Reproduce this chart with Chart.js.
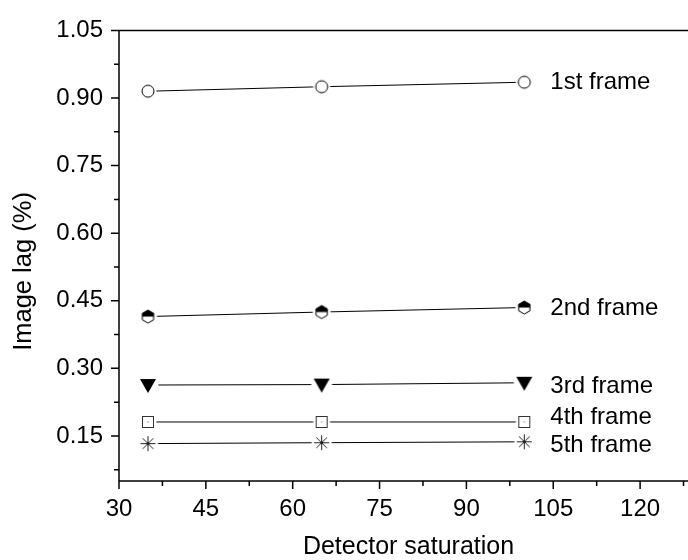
<!DOCTYPE html>
<html><head><meta charset="utf-8">
<script src="https://cdn.jsdelivr.net/npm/chart.js@4/dist/chart.umd.min.js"></script>
<style>
html,body{margin:0;padding:0;background:#fff;overflow:hidden;width:688px;height:560px}
#wrap{width:720px;height:560px}
</style></head><body>
<div id="wrap"><canvas id="c" width="720" height="560"></canvas></div>
<script>
const saturation = [35, 65, 100];
const frame1 = [0.915, 0.925, 0.935];
const frame2 = [0.415, 0.425, 0.435];
const frame3 = [0.263, 0.264, 0.268];
const frame4 = [0.181, 0.181, 0.181];
const frame5 = [0.133, 0.135, 0.137];
const frameNames = ['1st frame', '2nd frame', '3rd frame', '4th frame', '5th frame'];
const labelY = [0.935, 0.432, 0.261, 0.191, 0.128];
const labelX = 104.5;
const xTickValues = [30, 45, 60, 75, 90, 105, 120];
const yTickValues = [0.15, 0.30, 0.45, 0.60, 0.75, 0.90, 1.05];
const xMinorValues = [37.5, 52.5, 67.5, 82.5, 97.5, 112.5, 127.5];
const yMinorValues = [0.075, 0.225, 0.375, 0.525, 0.675, 0.825, 0.975];
const xRange = [30, 130];
const yRange = [0.05, 1.05];
const xTitle = 'Detector saturation';
const yTitle = 'Image lag (%)';
const yTitleCenterValue = 0.515;

const FONT = '"Liberation Sans", Arial, sans-serif';

function marker(r, draw) {
  const pad = 4;
  const s = Math.ceil(2 * (r + pad));
  const c = document.createElement('canvas');
  c.width = s; c.height = s;
  const g = c.getContext('2d');
  g.translate(s / 2, s / 2);
  g.fillStyle = '#fff';
  g.beginPath(); g.arc(0, 0, r + 2.5, 0, Math.PI * 2); g.fill();
  g.strokeStyle = '#000'; g.fillStyle = '#000'; g.lineWidth = 1;
  draw(g, r);
  return c;
}
const mCircle = marker(6, (g, r) => {
  g.beginPath(); g.arc(0, 0, r, 0, Math.PI * 2);
  g.fillStyle = '#fff'; g.fill(); g.stroke();
});
function hexPath(g, r) {
  g.beginPath();
  for (let k = 0; k < 6; k++) {
    const a = -Math.PI / 2 + k * Math.PI / 3;
    const px = r * Math.cos(a), py = r * Math.sin(a);
    k ? g.lineTo(px, py) : g.moveTo(px, py);
  }
  g.closePath();
}
const mHex = marker(6.5, (g, r) => {
  hexPath(g, r); g.fillStyle = '#fff'; g.fill();
  g.save(); g.beginPath(); g.rect(-r - 1, -r - 1, 2 * r + 2, r + 1); g.clip();
  hexPath(g, r); g.fillStyle = '#000'; g.fill();
  g.restore();
  hexPath(g, r); g.stroke();
});
const mTri = marker(8, (g, r) => {
  g.beginPath();
  g.moveTo(-8, -6); g.lineTo(8, -6); g.lineTo(0, 8); g.closePath();
  g.fill();
});
const mSquare = marker(6, (g, r) => {
  g.fillStyle = '#fff';
  g.fillRect(-5.5, -5.5, 11, 11);
  g.strokeStyle = '#333';
  g.strokeRect(-5.5, -5.5, 11, 11);
  g.fillStyle = '#555';
  g.fillRect(-0.5, -0.5, 1, 1);
});
const mStar = marker(7.5, (g, r) => {
  g.beginPath();
  for (let k = 0; k < 4; k++) {
    const a = k * Math.PI / 4;
    g.moveTo(-r * Math.cos(a), -r * Math.sin(a));
    g.lineTo(r * Math.cos(a), r * Math.sin(a));
  }
  g.strokeStyle = '#222';
  g.stroke();
});

const seriesValues = [frame1, frame2, frame3, frame4, frame5];
const seriesMarkers = [mCircle, mHex, mTri, mSquare, mStar];

const datasets = seriesValues.map((vals, i) => ({
  label: frameNames[i],
  data: saturation.map((s, j) => ({ x: s, y: vals[j] })),
  borderColor: '#000',
  borderWidth: 1,
  pointStyle: seriesMarkers[i],
  pointRadius: 6,
  pointHoverRadius: 6,
  tension: 0,
  fill: false
}));

const framePlugin = {
  id: 'framePlugin',
  afterDraw(chart) {
    const { ctx, chartArea: a, scales: { x, y } } = chart;
    ctx.save();
    ctx.strokeStyle = '#000';
    ctx.lineWidth = 1.5;
    ctx.beginPath();
    ctx.moveTo(a.left, a.top); ctx.lineTo(a.right + 5, a.top);
    ctx.moveTo(a.left, a.top); ctx.lineTo(a.left, a.bottom); ctx.lineTo(a.right + 5, a.bottom);
    yTickValues.forEach(v => { const p = y.getPixelForValue(v); ctx.moveTo(a.left, p); ctx.lineTo(a.left - 8, p); });
    yMinorValues.forEach(v => { const p = y.getPixelForValue(v); ctx.moveTo(a.left, p); ctx.lineTo(a.left - 5, p); });
    xTickValues.forEach(v => { const p = x.getPixelForValue(v); ctx.moveTo(p, a.bottom); ctx.lineTo(p, a.bottom + 8); });
    xMinorValues.forEach(v => { const p = x.getPixelForValue(v); ctx.moveTo(p, a.bottom); ctx.lineTo(p, a.bottom + 5); });
    ctx.stroke();
    ctx.fillStyle = '#000';
    ctx.font = '24px ' + FONT;
    ctx.textBaseline = 'middle';
    ctx.textAlign = 'left';
    frameNames.forEach((n, i) => ctx.fillText(n, x.getPixelForValue(labelX), y.getPixelForValue(labelY[i])));
    // y axis title
    ctx.save();
    ctx.translate(24, y.getPixelForValue(yTitleCenterValue));
    ctx.rotate(-Math.PI / 2);
    ctx.textAlign = 'center';
    ctx.font = '25.5px ' + FONT;
    ctx.fillText(yTitle, 0, 0);
    ctx.restore();
    ctx.restore();
  }
};

Chart.defaults.color = '#000';
Chart.defaults.font.family = FONT;

new Chart(document.getElementById('c'), {
  type: 'line',
  data: { datasets },
  options: {
    responsive: false,
    animation: false,
    events: [],
    layout: { padding: { top: 20, right: 22, bottom: 0, left: 0 } },
    plugins: { legend: { display: false }, tooltip: { enabled: false } },
    scales: {
      x: {
        type: 'linear',
        min: xRange[0], max: xRange[1],
        afterBuildTicks: s => { s.ticks = xTickValues.map(v => ({ value: v })); },
        afterFit: s => { s.height = 79; },
        grid: { display: false, drawTicks: false },
        border: { display: false },
        ticks: { font: { size: 24 }, padding: 14, maxRotation: 0, autoSkip: false, callback: v => String(v) },
        title: { display: true, text: xTitle, font: { size: 25, lineHeight: 1 }, padding: { top: 0, bottom: 0 } }
      },
      y: {
        type: 'linear',
        min: yRange[0], max: yRange[1],
        afterBuildTicks: s => { s.ticks = yTickValues.map(v => ({ value: v })); },
        afterFit: s => { s.width = 119; },
        grid: { display: false, drawTicks: false },
        border: { display: false },
        ticks: { font: { size: 24 }, padding: 16, autoSkip: false, callback: v => v.toFixed(2) },
        title: { display: false }
      }
    }
  },
  plugins: [framePlugin]
});
</script>
</body></html>
